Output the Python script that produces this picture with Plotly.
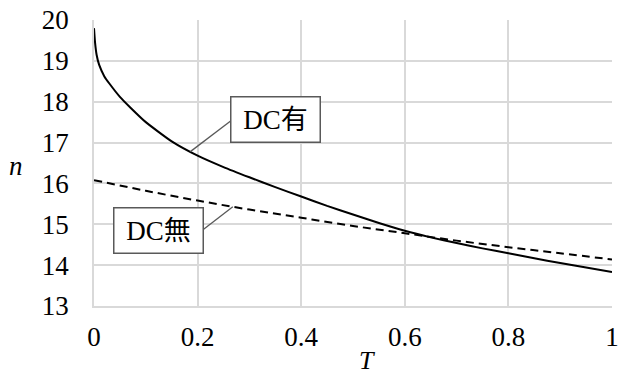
import numpy as np
import plotly.graph_objects as go

# ---- data ----
T_dc = [0, 0.002, 0.005, 0.01, 0.02, 0.03, 0.05, 0.07, 0.1, 0.15, 0.2, 0.25, 0.3, 0.35,
        0.4, 0.45, 0.5, 0.55, 0.6, 0.65, 0.7, 0.75, 0.8, 0.85, 0.9, 0.95, 1.0]
n_dc = [19.8, 19.45, 19.15, 18.9, 18.62, 18.44, 18.12, 17.86, 17.5, 17.03, 16.68, 16.4,
        16.15, 15.91, 15.68, 15.45, 15.24, 15.03, 14.84, 14.68, 14.54, 14.41, 14.29, 14.17,
        14.05, 13.94, 13.83]

T_nodc = [0, 0.1, 0.2, 0.3, 0.4, 0.5, 0.6, 0.7, 0.8, 0.9, 1.0]
n_nodc = [16.08, 15.82, 15.58, 15.36, 15.16, 14.96, 14.78, 14.60, 14.44, 14.29, 14.14]

x_ticks = [0, 0.2, 0.4, 0.6, 0.8, 1]
x_ticktext = ["0", "0.2", "0.4", "0.6", "0.8", "1"]
y_ticks = [13, 14, 15, 16, 17, 18, 19, 20]

label_dc = "DC有"
label_nodc = "DC無"
# label box centres and leader tips (data units)
box_dc = (0.351, 17.57)
lead_dc_start = (0.265, 17.54)
tip_dc_x = 0.186
box_nodc = (0.125, 14.86)
lead_nodc_start = (0.2104, 14.865)
tip_nodc_x = 0.268

SERIF = "Liberation Serif, Times New Roman, serif"
LABEL_FONT = "Liberation Serif, Noto Sans CJK JP, serif"

fig = go.Figure()
fig.add_trace(go.Scatter(x=T_dc, y=n_dc, mode="lines",
                         line=dict(color="black", width=2, shape="spline", smoothing=0.5),
                         showlegend=False, hoverinfo="skip"))
fig.add_trace(go.Scatter(x=T_nodc, y=n_nodc, mode="lines",
                         line=dict(color="black", width=2, dash="8px,5px", shape="spline"),
                         showlegend=False, hoverinfo="skip"))

tip_dc_y = float(np.interp(tip_dc_x, T_dc, n_dc))
tip_nodc_y = float(np.interp(tip_nodc_x, T_nodc, n_nodc))

for (x0, y0), (x1, y1) in [(lead_dc_start, (tip_dc_x, tip_dc_y)),
                           (lead_nodc_start, (tip_nodc_x, tip_nodc_y))]:
    fig.add_shape(type="line", xref="x", yref="y", x0=x0, y0=y0, x1=x1, y1=y1,
                  line=dict(color="#595959", width=1.3))

for text, (bx, by) in [(label_dc, box_dc), (label_nodc, box_nodc)]:
    fig.add_annotation(x=bx, y=by, xref="x", yref="y", text=text, showarrow=False,
                       font=dict(family=LABEL_FONT, size=27, color="black"),
                       bgcolor="white", bordercolor="#595959", borderwidth=1.5,
                       borderpad=2, width=84, height=40, align="center", valign="middle")

fig.add_annotation(x=-0.151, y=0.49, xref="paper", yref="paper", text="<i>n</i>",
                   xanchor="center", yanchor="middle",
                   showarrow=False, font=dict(family=SERIF, size=27, color="black"))
fig.add_annotation(x=0.527, y=-0.19, xref="paper", yref="paper", text="<i>T</i>",
                   xanchor="center", yanchor="middle",
                   showarrow=False, font=dict(family=SERIF, size=26, color="black"))

fig.update_layout(
    width=624, height=378,
    margin=dict(l=94, r=5, t=19, b=72),
    paper_bgcolor="white", plot_bgcolor="white",
    font=dict(family=SERIF),
    xaxis=dict(range=[0, 1], tickvals=x_ticks, ticktext=x_ticktext,
               showgrid=True, gridcolor="#d9d9d9", gridwidth=1.5,
               showline=True, linecolor="#d9d9d9", linewidth=1.5,
               zeroline=False, ticks="", ticklabelstandoff=6,
               ticklabeloverflow="allow",
               tickfont=dict(family=SERIF, size=27, color="black")),
    yaxis=dict(range=[13, 20], tickvals=y_ticks,
               showgrid=True, gridcolor="#d9d9d9", gridwidth=1.5,
               showline=True, linecolor="#d9d9d9", linewidth=1.5,
               zeroline=False, ticks="", ticklabelstandoff=18,
               tickfont=dict(family=SERIF, size=27, color="black")),
)

fig.write_html("out.html")
